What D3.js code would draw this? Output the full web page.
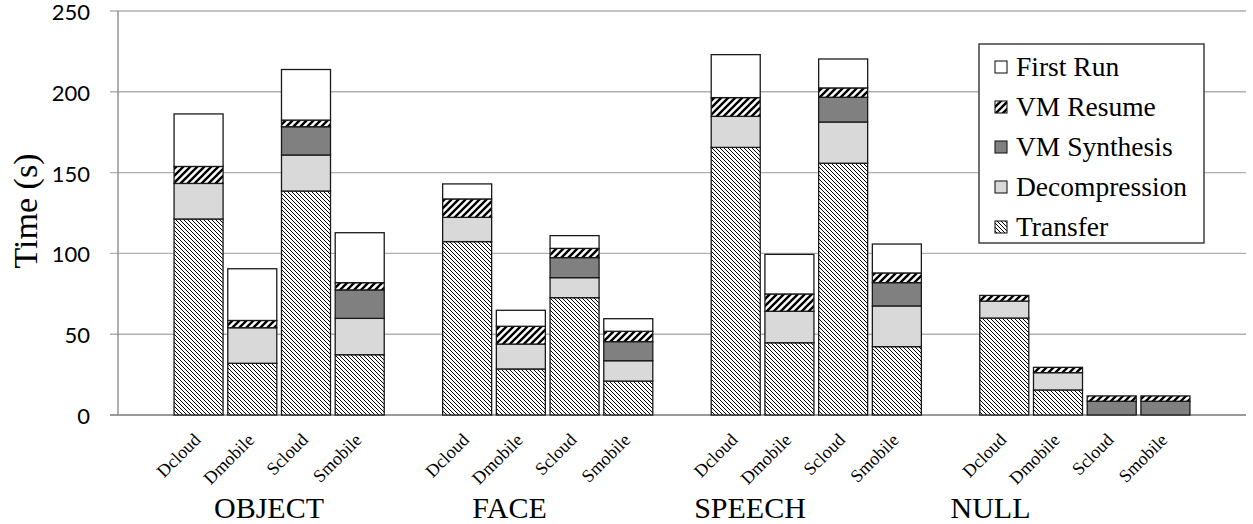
<!DOCTYPE html>
<html><head><meta charset="utf-8">
<script src="https://cdn.jsdelivr.net/npm/d3@7"></script>
<style>html,body{margin:0;padding:0;background:#fff;}svg{display:block;}</style>
</head><body>
<svg id="chart" width="1253" height="524"></svg>
<script>
const categories = ["OBJECT", "FACE", "SPEECH", "NULL"];
const configs = ["Dcloud", "Dmobile", "Scloud", "Smobile"];
const seriesNames = ["Transfer", "Decompression", "VM Synthesis", "VM Resume", "First Run"];
const transfer      = [121.3, 32.0, 138.6, 37.3, 107.3, 28.5, 72.6, 21.0, 165.6, 44.7, 155.8, 42.3, 60.0, 15.5, 0, 0];
const decompression = [22.0, 22.0, 22.3, 22.5, 15.0, 15.4, 12.4, 12.6, 19.2, 19.5, 25.5, 25.2, 10.5, 10.7, 0, 0];
const vmSynthesis   = [0, 0, 17.5, 17.6, 0, 0, 12.4, 11.8, 0, 0, 15.3, 14.4, 0, 0, 8.5, 8.5];
const vmResume      = [10.5, 4.5, 4.1, 4.5, 11.4, 11.0, 5.7, 6.4, 11.6, 10.7, 5.8, 6.0, 3.5, 3.3, 3.3, 3.3];
const firstRun      = [32.5, 32.0, 31.3, 30.9, 9.3, 9.9, 7.9, 7.8, 26.6, 24.5, 17.9, 17.9, 0, 0, 0, 0];
const yTicks = [0, 50, 100, 150, 200, 250];

(function () {
const svg = d3.select("#chart");
const mLeft = 118, mRight = 1246, mTop = 11, mBottom = 415;

// build slots: gap, 4 bars, gap, 4 bars, ..., gap
const slots = [];
const rows = [];
categories.forEach((c, g) => {
  slots.push("gap" + g);
  configs.forEach((k, j) => {
    const i = g * configs.length + j;
    const key = c + "|" + k;
    slots.push(key);
    rows.push({key, cat: c, cfg: k,
      "Transfer": transfer[i], "Decompression": decompression[i],
      "VM Synthesis": vmSynthesis[i], "VM Resume": vmResume[i], "First Run": firstRun[i]});
  });
});
slots.push("gapEnd");

const pad = 0.0875;
const x = d3.scaleBand().domain(slots).range([mLeft, mRight]).paddingInner(pad).paddingOuter(pad / 2);
const y = d3.scaleLinear().domain([0, 250]).range([mBottom, mTop]);

// patterns
const defs = svg.append("defs");
const pT = defs.append("pattern").attr("id", "pTransfer").attr("patternUnits", "userSpaceOnUse")
  .attr("width", 4).attr("height", 4);
pT.append("rect").attr("width", 4).attr("height", 4).attr("fill", "#fff");
pT.append("path").attr("d", "M-1,-1 L5,5 M-1,3 L1,5 M3,-1 L5,1").attr("stroke", "#000").attr("stroke-width", 1);
const pR = defs.append("pattern").attr("id", "pResume").attr("patternUnits", "userSpaceOnUse")
  .attr("width", 7).attr("height", 7);
pR.append("rect").attr("width", 7).attr("height", 7).attr("fill", "#fff");
pR.append("path").attr("d", "M-1,8 L8,-1 M-4,4 L4,-4 M3,11 L11,3").attr("stroke", "#000").attr("stroke-width", 2.4);

const fills = {
  "Transfer": "url(#pTransfer)",
  "Decompression": "#d9d9d9",
  "VM Synthesis": "#808080",
  "VM Resume": "url(#pResume)",
  "First Run": "#ffffff"
};

// gridlines
svg.append("g").selectAll("line").data(yTicks).join("line")
  .attr("x1", mLeft - 8).attr("x2", mRight)
  .attr("y1", d => y(d)).attr("y2", d => y(d))
  .attr("stroke", "#b0b0b0").attr("stroke-width", 1.4);
svg.append("line").attr("x1", mLeft).attr("x2", mLeft).attr("y1", mTop).attr("y2", mBottom)
  .attr("stroke", "#8c8c8c").attr("stroke-width", 1.4);
svg.append("line").attr("x1", mLeft - 8).attr("x2", mRight).attr("y1", mBottom).attr("y2", mBottom)
  .attr("stroke", "#8c8c8c").attr("stroke-width", 1.4);

// y tick labels
svg.append("g").selectAll("text").data(yTicks).join("text")
  .attr("x", 90).attr("y", d => y(d)).attr("dy", "0.41em")
  .attr("text-anchor", "end").attr("font-family", "Lato, 'Open Sans', sans-serif")
  .attr("font-size", 22).attr("fill", "#000").text(d => d);

// y title
svg.append("text").attr("transform", "translate(37,211) rotate(-90)")
  .attr("text-anchor", "middle").attr("font-family", "'Liberation Serif', 'Times New Roman', serif")
  .attr("font-size", 34).text("Time (s)");

// bars
const stack = d3.stack().keys(seriesNames);
const stacked = stack(rows);
svg.append("g").selectAll("g").data(stacked).join("g")
  .attr("fill", d => fills[d.key])
  .selectAll("rect").data(d => d.filter(s => s[1] - s[0] > 0)).join("rect")
  .attr("x", d => x(d.data.key)).attr("width", x.bandwidth())
  .attr("y", d => y(d[1])).attr("height", d => y(d[0]) - y(d[1]))
  .attr("stroke", "#1a1a1a").attr("stroke-width", 1.3);

// x config labels
svg.append("g").selectAll("text").data(rows).join("text")
  .attr("transform", d => `translate(${x(d.key) + x.bandwidth() / 2 + 3},441) rotate(-45)`)
  .attr("text-anchor", "end").attr("font-family", "'Liberation Serif', 'Times New Roman', serif")
  .attr("font-size", 18).text(d => d.cfg);

// category labels
svg.append("g").selectAll("text").data(categories).join("text")
  .attr("x", (d, i) => mLeft + 151 + i * 240.5).attr("y", 518)
  .attr("text-anchor", "middle").attr("font-family", "'Liberation Serif', 'Times New Roman', serif")
  .attr("font-size", 30).text(d => d);

// legend
const lg = svg.append("g");
lg.append("rect").attr("x", 979).attr("y", 44).attr("width", 225).attr("height", 199)
  .attr("fill", "#fff").attr("stroke", "#333").attr("stroke-width", 1.4);
const legendOrder = seriesNames.slice().reverse();
const li = lg.selectAll("g").data(legendOrder).join("g")
  .attr("transform", (d, i) => `translate(995,${67 + i * 40})`);
li.append("rect").attr("x", 0).attr("y", -6).attr("width", 12).attr("height", 12)
  .attr("fill", d => fills[d]).attr("stroke", "#1a1a1a").attr("stroke-width", 1.1);
li.append("text").attr("x", 21).attr("y", 0).attr("dy", "0.33em")
  .attr("font-family", "'Liberation Serif', 'Times New Roman', serif")
  .attr("font-size", 27.5).text(d => d);
})();
</script>
</body></html>
